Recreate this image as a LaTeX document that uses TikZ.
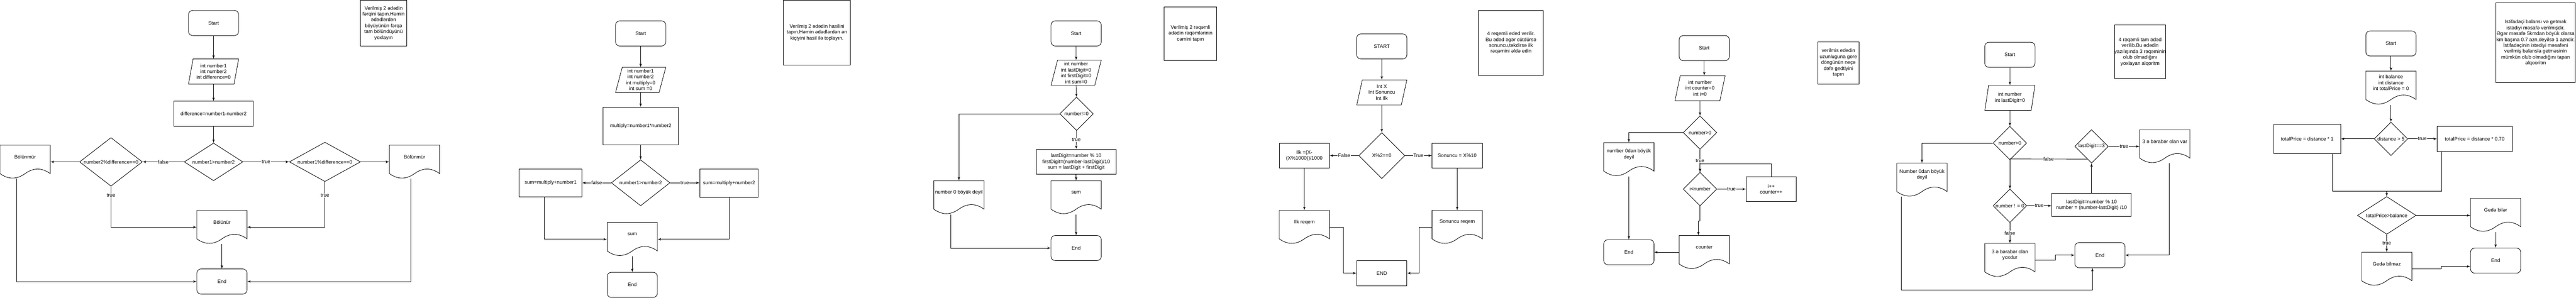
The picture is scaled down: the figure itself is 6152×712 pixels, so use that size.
\documentclass[tikz,border=0pt]{standalone}
\usepackage{fontspec}
\setmainfont{Liberation Sans}
\usetikzlibrary{arrows}
\usetikzlibrary{shapes.geometric}
\usetikzlibrary{calc}
\tikzset{arr/.style = {-latex'}}
\tikzset{lbl/.style = {fill = white, inner sep = 0.5pt}}
\tikzset{term/.style = {draw, rounded corners = 0.2cm, minimum width = 2.4cm, minimum height = 1.2cm, align = center}}
\tikzset{proc/.style = {draw, minimum width = 2.4cm, minimum height = 1.2cm, align = center, inner sep = 1pt}}
\tikzset{io/.style = {draw, trapezium, trapezium left angle = 76, trapezium right angle = 104,
                      trapezium stretches = true, minimum width = 2.4cm, minimum height = 1.2cm,
                      align = center, inner sep = 0pt}}
\tikzset{dec/.style = {draw, diamond, inner sep = 0pt}}
\tikzset{doc/.style = {minimum height = 1.6cm, inner sep = 0pt}}
\tikzset{note/.style = {draw, align = center, inner sep = 0pt}}
\newcommand{\flowdoc}[5]{%
  \node[doc, minimum width = {#4*0.02cm}] (#1) at (#2,#3) {};
  \draw ({#2-#4/2},{#3+28}) -- ({#2-#4/2},{#3-40}) -- ({#2+#4/2},{#3-40}) -- ({#2+#4/2},{#3+28})
    .. controls ({#2+#4/3},{#3+13.6}) and ({#2+#4/6},{#3+13.6}) .. (#2,{#3+28})
    .. controls ({#2-#4/6},{#3+42.4}) and ({#2-#4/3},{#3+42.4}) .. ({#2-#4/2},{#3+28}) -- cycle;
  \node[align = center] at (#2,{#3-12}) {#5};
}

\begin{document}
\begin{tikzpicture}[x = 0.02cm, y = -0.02cm, line width = 0.6pt,
                    every node/.style = {font = \fontsize{6.8}{8}\selectfont}]
  \useasboundingbox (0,0) rectangle (6152,712);

  \node[term] (s1) at (510,55) {Start};
  \node[io] (in1) at (510,171) {int number1\\int number2\\int difference=0};
  \node[proc, minimum width = 3.8cm] (p1) at (510,272) {difference=number1-number2};
  \node[dec, minimum width = 2.8cm, minimum height = 1.8cm, label = center:{number1>number2}] (d1) at (510,387) {};
  \node[dec, minimum width = 3cm, minimum height = 2.32cm, label = center:{number2\%difference==0}] (d1l) at (265,387) {};
  \node[dec, minimum width = 3.4cm, minimum height = 1.88cm, label = center:{number1\%difference==0}] (d1r) at (776,387) {};
  \flowdoc{o1l}{60}{387}{120}{Bölünmür}
  \flowdoc{o1r}{990}{387}{120}{Bölünmür}
  \flowdoc{o1}{530}{543}{120}{Bölünür}
  \node[term] (e1) at (530,673) {End};
  \node[note, minimum width = 2.2cm, minimum height = 2.18cm] (n1) at (916,55.5)
    {Verilmiş 2 ədədin\\fərqini tapın.Həmin\\ədədlərdən\\böyüyünün fərqə\\tam bölündüyünü\\yoxlayın};
  \draw[arr] (s1) -- (in1);
  \draw[arr] (in1) -- (p1);
  \draw[arr] (p1) -- (d1);
  \draw[arr] (d1) -- node[lbl] {false} (d1l);
  \draw[arr] (d1) -- node[lbl] {true} (d1r);
  \draw[arr] (d1l) -- (o1l);
  \draw[arr] (d1r) -- (o1r);
  \draw[arr] (d1l.south) |- node[lbl, pos = 0.11] {true} (o1.west);
  \draw[arr] (d1r.south) |- node[lbl, pos = 0.15] {true} (o1.east);
  \draw[arr] (o1) -- (e1);
  \draw[arr] ([xshift = -0.4cm]o1l.south) |- (e1.west);
  \draw[arr] ([xshift = -0.18cm]o1r.south) |- (e1.east);

  \node[term] (s2) at (1530,80) {Start};
  \node[io] (in2) at (1530,191) {int number1\\int number2\\int multiply=0\\int sum =0};
  \node[proc, minimum width = 3.6cm, minimum height = 1.8cm] (p2) at (1530,301) {multiply=number1*number2};
  \node[dec, minimum width = 2.8cm, minimum height = 2.2cm, label = center:{number1>number2}] (d2) at (1530,437) {};
  \node[proc, minimum width = 3cm, minimum height = 1.32cm] (p2l) at (1315,437) {sum=multiply+number1};
  \node[proc, minimum width = 2.8cm, minimum height = 1.36cm] (p2r) at (1741,438) {sum=multiply+number2};
  \flowdoc{o2}{1510}{572}{120}{sum}
  \node[term] (e2) at (1510,681) {End};
  \node[note, minimum width = 3.2cm, minimum height = 3.1cm] (n2) at (1951,78)
    {Verilmiş 2 ədədin hasilini\\tapın.Həmin ədədlərdən ən\\kiçiyini hasil ilə toplayın.};
  \draw[arr] (s2) -- (in2);
  \draw[arr] (in2) -- (p2);
  \draw[arr] (p2) -- (d2);
  \draw[arr] (d2.west) -- node[lbl] {false} (p2l.east);
  \draw[arr] (d2.east) -- node[lbl] {true} (d2.east -| p2r.west);
  \draw[arr] ([xshift = -0.3cm]p2l.south) |- (o2.west);
  \draw[arr] (p2r.south) |- (o2.east);
  \draw[arr] (o2) -- (e2);

  \node[term] (s3) at (2570,80) {Start};
  \node[io] (in3) at (2570,174) {int number\\int lastDigit=0\\int firstDigit=0\\int sum=0};
  \node[dec, minimum width = 1.6cm, minimum height = 1.6cm, label = center:{number!=0}] (d3) at (2571,272) {};
  \node[proc, minimum width = 3.8cm] (p3) at (2570,387)
    {lastDigit=number \% 10\\firstDigit=(number-lastDigit)/10\\sum = lastDigit + firstDigit};
  \flowdoc{o3}{2570}{472}{120}{sum}
  \node[term] (e3) at (2570,593) {End};
  \flowdoc{o3l}{2290}{472}{120}{number 0 böyük deyil}
  \node[note, minimum width = 2.52cm, minimum height = 2.54cm] (n3) at (2843,80.5)
    {Verilmiş 2 rəqəmli\\ədədin rəqəmlərinin\\cəmini tapın};
  \draw[arr] (s3) -- (in3);
  \draw[arr] (in3) -- (d3);
  \draw[arr] (d3) -- node[lbl] {true} (p3);
  \draw[arr] (p3) -- (o3);
  \draw[arr] (o3) -- (e3);
  \draw[arr] (d3.west) -| (o3l.north);
  \draw[arr] ([xshift = -0.38cm]o3l.south) |- (e3.west);

  \node[term] (s4) at (3300,111) {START};
  \node[io] (in4) at (3300,221) {Int X\\Int Sonuncu\\Int Ilk};
  \node[dec, minimum width = 2.2cm, minimum height = 2.2cm, label = center:{X\%2==0}] (d4) at (3300,372) {};
  \node[proc] (p4l) at (3115,372) {Ilk =(X-\\(X\%1000))/1000};
  \node[proc] (p4r) at (3480,372) {Sonuncu = X\%10};
  \flowdoc{o4l}{3115}{543}{120}{Ilk reqem}
  \flowdoc{o4r}{3480}{543}{120}{Sonuncu reqem}
  \node[proc] (e4) at (3300,653) {END};
  \node[note, minimum width = 3.1cm, minimum height = 3.1cm] (n4) at (3608.5,102.5)
    {4 reqemli eded verilir.\\Bu ədəd əgər cütdürsə\\sonuncu,təkdirsə ilk\\rəqəmini əldə edin};
  \draw[arr] (s4) -- (in4);
  \draw[arr] (in4) -- (d4);
  \draw[arr] (d4) -- node[lbl] {False} (p4l);
  \draw[arr] (d4) -- node[lbl] {True} (p4r);
  \draw[arr] (p4l) -- (o4l);
  \draw[arr] (p4r) -- (o4r);
  \draw[arr] (o4l.east) -- ++(33,0) |- (e4.west);
  \draw[arr] (o4r.west) -- ++(-30,0) |- (e4.east);

  \node[term] (s5) at (4070,115) {Start};
  \node[io] (in5) at (4060,211) {int number\\int counter=0\\int i=0};
  \node[dec, minimum width = 1.6cm, minimum height = 1.6cm, label = center:{number>0}] (d5) at (4060,317) {};
  \flowdoc{o5l}{3890}{381}{120}{number 0dan böyük\\deyil}
  \node[term] (e5) at (3890,603) {End};
  \node[dec, minimum width = 1.6cm, minimum height = 1.6cm, label = center:{i<number}] (d5b) at (4060,452) {};
  \node[proc] (p5) at (4230,452) {i++\\counter++};
  \flowdoc{o5}{4070}{603}{120}{counter}
  \node[note, minimum width = 1.98cm, minimum height = 2.02cm] (n5) at (4390.5,150.5)
    {verilmis ededin\\uzunluguna gore\\döngünün neçə\\dəfə gedtiyini\\tapın};
  \draw[arr] (s5.south) -- (s5.south |- in5.north);
  \draw[arr] (in5) -- (d5);
  \draw[arr] (d5.west) -| (o5l.north);
  \draw[arr] (o5l) -- (e5);
  \draw[arr] (d5) -- node[lbl] {true} (d5b);
  \draw[arr] (d5b) -- node[lbl] {true} (p5);
  \draw[arr] (p5.north) -- ++(0,-30) -| (d5b.north);
  \draw[arr] (d5b.south) -- ++(0,36) -| ([xshift = -0.28cm]o5.north);
  \draw[arr] (o5) -- (e5);

  \node[term] (s6) at (4800,131) {Start};
  \node[io] (in6) at (4800,234) {int number\\int lastDigit=0};
  \node[dec, minimum width = 1.6cm, minimum height = 1.6cm, label = center:{number>0}] (d6) at (4800,342) {};
  \flowdoc{o6l}{4590}{430}{120}{Number 0dan böyük\\deyil}
  \node[dec, minimum width = 1.6cm, minimum height = 1.6cm, label = center:{number ! = 0}] (d6b) at (4800,492) {};
  \node[proc, minimum width = 3.8cm, minimum height = 1.1cm] (p6) at (4995,490)
    {lastDigit=number \% 10\\number = (number-lastDigit) /10};
  \node[dec, minimum width = 1.6cm, minimum height = 1.6cm, label = center:{lastDigit==3}] (d6c) at (4995,350) {};
  \flowdoc{o6r}{5170}{350}{120}{3 ə bərabər olan var}
  \flowdoc{o6b}{4800}{622}{120}{3 ə bərabər olan\\yoxdur}
  \node[term] (e6) at (5015,610) {End};
  \node[note, minimum width = 2.4cm, minimum height = 2.56cm] (n6) at (5111,124)
    {4 rəqəmli tam ədəd\\verilib.Bu ədədin\\yazılışında 3 rəqəminin\\olub olmadığını\\yoxlayan alqoritm};
  \draw[arr] (s6) -- (in6);
  \draw[arr] (in6) -- (d6);
  \draw[arr] (d6.west) -| (o6l.north);
  \draw[arr] (d6) -- (d6b);
  \draw ($(d6c.south)!0.25!(d6c.west)$) -- node[lbl] {false} (d6.south |- 0,380);
  \draw[arr] (d6b.east) -- node[lbl] {true} (d6b.east -| p6.west);
  \draw[arr] (p6) -- (d6c);
  \draw[arr] (d6c) -- node[lbl] {true} (o6r);
  \draw[arr] ([xshift = 0.2cm]o6r.south) |- (e6.east);
  \draw[arr] (d6b) -- node[lbl] {false} (o6b);
  \draw[arr] (o6b.east) -- ++(48,0) |- (e6.west);
  \draw[arr] ([xshift = -0.98cm]o6l.south) |- ([xshift = -0.36cm, yshift = -1.06cm]e6.south)
    -- ([xshift = -0.36cm]e6.south);

  \node[term] (s7) at (5710,104) {Start};
  \flowdoc{in7}{5710}{210}{120}{int balance\\int distance\\int totalPrice = 0}
  \node[dec, minimum width = 1.6cm, minimum height = 1.6cm, label = center:{distance > 5}] (d7) at (5710,332) {};
  \node[proc, minimum width = 3.2cm, minimum height = 1.4cm] (p7l) at (5510,332) {totalPrice = distance * 1};
  \node[proc, minimum width = 3.6cm] (p7r) at (5910,332) {totalPrice = distance * 0.70};
  \node[dec, minimum width = 2.8cm, minimum height = 1.8cm, label = center:{totalPrice>balance}] (d7b) at (5700,515) {};
  \flowdoc{o7r}{5960}{514}{120}{Gedə bilər}
  \flowdoc{o7b}{5700}{643}{120}{Gedə bilməz}
  \node[term] (e7) at (5960,623) {End};
  \node[note, minimum width = 3.78cm, minimum height = 3.82cm] (n7) at (6055.5,102.5)
    {Istifadəçi balansı və getmək\\istədiyi məsafə verilmişdir.\\Əgər məsafə 5kmdan böyük olarsa\\km başına 0.7 azn,deyilsə 1 azndir.\\İstifadəçinin istədiyi məsafəni\\verilmiş balansla getməsinin\\mümkün olub olmadığını tapan\\alqooritm};
  \draw[arr] (s7) -- (in7);
  \draw[arr] (in7) -- (d7);
  \draw[arr] (d7) -- (p7l);
  \draw[arr] (d7) -- node[lbl] {true} (p7r);
  \draw ([xshift = 1.22cm]p7l.south) -- ++(0,90) -| ([xshift = -1.58cm]p7r.south);
  \draw[arr] ([yshift = 0.26cm]d7b.north) -- (d7b.north);
  \draw[arr] (d7b.east) -- (d7b.east -| o7r.west);
  \draw[arr] (d7b) -- node[lbl] {true} (o7b);
  \draw[arr] (o7r) -- (e7);
  \draw[arr] (o7b.east) -- ++(70,0) |- ([yshift = -0.28cm]e7.west);
\end{tikzpicture}
\end{document}
